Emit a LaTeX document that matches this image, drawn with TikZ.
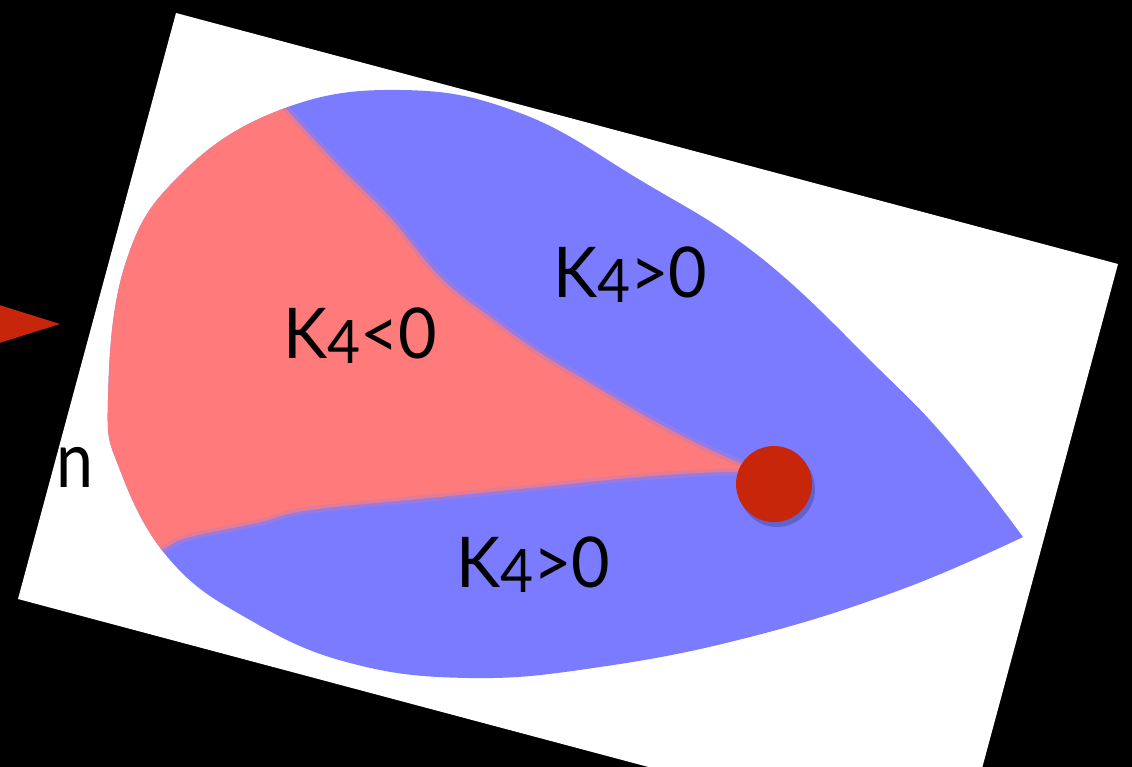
\documentclass[tikz,border=0pt]{standalone}
\usepackage{fontspec}
\setmainfont{Lato}
\definecolor{regionblue}{RGB}{123,123,255}
\definecolor{regionred}{RGB}{255,123,123}
\definecolor{dotred}{RGB}{200,38,10}
\definecolor{edgemix}{RGB}{189,123,189}

\tikzset{
  klabel/.style={anchor=base west,inner sep=0pt,font=\fontsize{70}{80}\selectfont,xscale=0.95},
  blurline/.style={edgemix,line width=7pt,opacity=0.45},
}
\newcommand{\Kfour}[1]{K\raisebox{-5pt}{\fontsize{60}{60}\selectfont 4}#1}

\begin{document}
\begin{tikzpicture}[x=1pt,y=-1pt]
  % 轮廓
  \def\tearpath{plot[smooth,tension=0.7] coordinates {
    (1023,537) (950,443) (880,370) (760,257) (640,180) (520,113) (400,90)
    (280,110) (180,175) (125,265) (108,400) (120,470) (170,560) (250,620)
    (350,663) (470,678) (600,667) (750,637) (900,590) (1023,537)} -- cycle}
  \def\upperedge{plot[smooth,tension=0.6] coordinates {
    (260,75) (290,113) (340,167) (390,217) (440,277) (490,317) (540,353)
    (590,383) (640,413) (690,440) (733,460) (750,466)}}
  \def\loweredge{plot[smooth,tension=0.6] coordinates {
    (750,474) (723,472) (640,477) (540,487) (440,497) (310,510) (257,523)
    (190,537) (167,547) (140,565)}}

  % 背景
  \fill[black] (0,0) rectangle (1132,767);
  \useasboundingbox (0,0) rectangle (1132,767);
  \clip (0,0) rectangle (1132,767);

  % 左侧箭头
  \fill[dotred] (-20,299) -- (60,324) -- (-20,349) -- cycle;

  % 旋转的白色底图
  \fill[white] (176,13) -- (1118,264) -- (960,850) -- (18,599) -- cycle;

  % 左侧文字
  \node[anchor=base west,inner sep=0pt,font=\fontsize{78}{80}\selectfont,xscale=0.85] (letter) at (56,487) {n};

  % 蓝色区域 (K4>0)
  \fill[regionblue] \tearpath;

  % 红色区域 (K4<0)
  \begin{scope}
    \clip \tearpath;
    \fill[regionred] plot[smooth,tension=0.6] coordinates {
      (260,75) (290,113) (340,167) (390,217) (440,277) (490,317) (540,353)
      (590,383) (640,413) (690,440) (733,460) (750,466)}
      -- plot[smooth,tension=0.6] coordinates {
      (750,474) (723,472) (640,477) (540,487) (440,497) (310,510) (257,523)
      (190,537) (167,547) (140,565)}
      -- (60,565) -- (60,75) -- cycle;
    % 模糊边界
    \draw[blurline] \upperedge;
    \draw[blurline] \loweredge;
  \end{scope}

  % 红点
  \fill[black,opacity=0.2] (777,489) circle (38);
  \node[circle,fill=dotred,minimum size=76pt,inner sep=0pt] (dot) at (774,484) {};

  % 标签
  \node[klabel] (kpostop) at (553,298) {\Kfour{>0}};
  \node[klabel] (kneg) at (283,358) {\Kfour{<0}};
  \node[klabel] (kposbottom) at (456,587) {\Kfour{>0}};
\end{tikzpicture}
\end{document}
